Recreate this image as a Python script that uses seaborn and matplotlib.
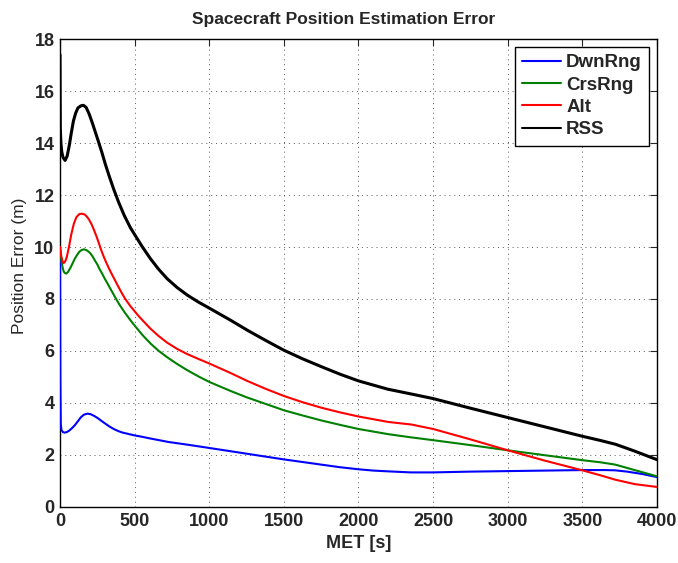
import numpy as np
import pandas as pd
import seaborn as sns
from matplotlib import pyplot as plt

# values (MET in s, error in m)
t_dwn = [0, 2, 5, 10, 20, 31, 45, 60, 80, 100, 120, 140, 160, 184, 205, 230, 255, 278, 305, 330, 360, 390,
         420, 450, 502, 550, 600, 673, 727, 850, 1000, 1125, 1250, 1375, 1500, 1625, 1750, 1875, 2000,
         2100, 2200, 2350, 2500, 2750, 3000, 3250, 3500, 3650, 3720, 3800, 3900, 4000]
dwn_rng = [9.7, 5.0, 3.2, 2.95, 2.88, 2.86, 2.88, 2.93, 3.03, 3.15, 3.3, 3.45, 3.55, 3.59, 3.57, 3.5, 3.41, 3.31,
           3.2, 3.1, 3.0, 2.92, 2.86, 2.82, 2.75, 2.7, 2.64, 2.56, 2.5, 2.4, 2.27, 2.16, 2.05, 1.94, 1.83,
           1.73, 1.63, 1.53, 1.45, 1.4, 1.37, 1.33, 1.33, 1.36, 1.38, 1.40, 1.42, 1.42, 1.41, 1.36, 1.27, 1.15]

t_crs = [0, 3, 10, 18, 25, 35, 43, 55, 70, 85, 99, 115, 130, 146, 162, 180, 200, 217, 233, 250, 265, 283,
         300, 318, 335, 352, 368, 381, 400, 435, 471, 500, 550, 606, 660, 718, 785, 853, 925, 1000, 1144,
         1250, 1380, 1500, 1625, 1750, 1875, 2000, 2200, 2350, 2500, 2750, 3000, 3250, 3500, 3620, 3720,
         3850, 4000]
crs_rng = [10.0, 9.85, 9.45, 9.2, 9.05, 8.99, 8.98, 9.05, 9.2, 9.38, 9.55, 9.7, 9.82, 9.89, 9.91, 9.87, 9.78,
           9.65, 9.49, 9.33, 9.15, 8.97, 8.78, 8.6, 8.42, 8.25, 8.08, 7.95, 7.77, 7.47, 7.19, 6.98, 6.63,
           6.29, 6.01, 5.76, 5.5, 5.26, 5.03, 4.81, 4.46, 4.22, 3.96, 3.72, 3.52, 3.33, 3.16, 3.0, 2.80,
           2.68, 2.57, 2.38, 2.18, 1.99, 1.80, 1.72, 1.63, 1.42, 1.18]

t_alt = [0, 3, 10, 18, 25, 35, 45, 60, 76, 93, 110, 130, 148, 165, 180, 195, 211, 228, 245, 262, 278, 295,
         310, 330, 345, 365, 381, 410, 435, 471, 500, 520, 550, 606, 660, 718, 785, 853, 925, 1000, 1144,
         1250, 1380, 1500, 1625, 1750, 1875, 2000, 2200, 2356, 2500, 2750, 3000, 3250, 3500, 3620, 3720,
         3850, 4000]
alt = [10.0, 9.85, 9.6, 9.43, 9.38, 9.45, 9.6, 10.0, 10.5, 10.9, 11.15, 11.27, 11.28, 11.25, 11.17, 11.05,
       10.88, 10.65, 10.4, 10.12, 9.85, 9.6, 9.4, 9.15, 8.98, 8.76, 8.58, 8.27, 8.02, 7.73, 7.53, 7.39, 7.2,
       6.86, 6.58, 6.32, 6.08, 5.88, 5.7, 5.52, 5.15, 4.86, 4.54, 4.27, 4.03, 3.82, 3.64, 3.48, 3.27, 3.17,
       3.0, 2.6, 2.18, 1.78, 1.41, 1.22, 1.05, 0.88, 0.77]

t_rss = [0, 2, 6, 12, 20, 34, 48, 62, 76, 90, 105, 120, 140, 157, 175, 195, 215, 235, 255, 280, 303, 330,
         360, 393, 430, 471, 500, 550, 606, 660, 718, 785, 853, 925, 1000, 1144, 1255, 1380, 1500, 1625,
         1750, 1875, 2000, 2197, 2350, 2500, 2750, 3000, 3250, 3500, 3620, 3723, 3850, 4000]
rss = [17.4, 14.6, 14.0, 13.65, 13.45, 13.33, 13.5, 13.9, 14.4, 14.85, 15.15, 15.35, 15.43, 15.45, 15.37,
       15.12, 14.8, 14.45, 14.1, 13.65, 13.2, 12.72, 12.22, 11.72, 11.22, 10.75, 10.48, 10.02, 9.55, 9.15,
       8.78, 8.44, 8.15, 7.89, 7.65, 7.18, 6.8, 6.4, 6.03, 5.7, 5.4, 5.11, 4.85, 4.53, 4.35, 4.17, 3.8,
       3.44, 3.08, 2.72, 2.56, 2.41, 2.15, 1.82]

series = [('DwnRng', t_dwn, dwn_rng, 'blue', 1.5),
          ('CrsRng', t_crs, crs_rng, 'green', 1.5),
          ('Alt', t_alt, alt, 'red', 1.5),
          ('RSS', t_rss, rss, 'black', 2.2)]

sns.set_style('white')
plt.rcParams['font.family'] = ['Liberation Sans', 'DejaVu Sans']

fig = plt.figure(figsize=(6.78, 5.63), dpi=100)
ax = fig.add_axes([0.0885, 0.0995, 0.8805, 0.8312])

for name, t, v, col, lw in series:
    df = pd.DataFrame({'MET': t, 'err': v})
    sns.lineplot(data=df, x='MET', y='err', ax=ax, color=col, linewidth=lw,
                 estimator=None, sort=False, label=name, zorder=3)

ax.set_xlim(0, 4000)
ax.set_ylim(0, 18)
ax.set_xticks(np.arange(0, 4001, 500))
ax.set_yticks(np.arange(0, 19, 2))
ax.grid(True, linestyle=(0, (1, 4)), color='0.35', linewidth=0.7)
ax.tick_params(direction='in', top=True, right=True, length=5, width=0.8,
               labelsize=13, pad=4)
for lab in ax.get_xticklabels() + ax.get_yticklabels():
    lab.set_fontweight('bold')
for sp in ax.spines.values():
    sp.set_color('black')
    sp.set_linewidth(1.0)

ax.set_xlabel('MET [s]', fontsize=13, fontweight='bold', labelpad=4)
ax.set_ylabel('Position Error (m)', fontsize=12.5)
ax.yaxis.set_label_coords(-0.055, 0.515)
ax.set_title('Spacecraft Position Estimation Error', fontsize=12.5, fontweight='bold',
             pad=11, x=0.475)

leg = ax.legend(loc='upper right', fancybox=False, framealpha=1, edgecolor='black',
                prop={'weight': 'bold', 'size': 13.5}, handlelength=2.05, handletextpad=0.3,
                labelspacing=0.28, borderaxespad=0.4, borderpad=0.4)
leg.get_frame().set_linewidth(1.0)
for ln in leg.get_lines():
    ln.set_linewidth(1.5)

fig.savefig('out.png', dpi=100)
